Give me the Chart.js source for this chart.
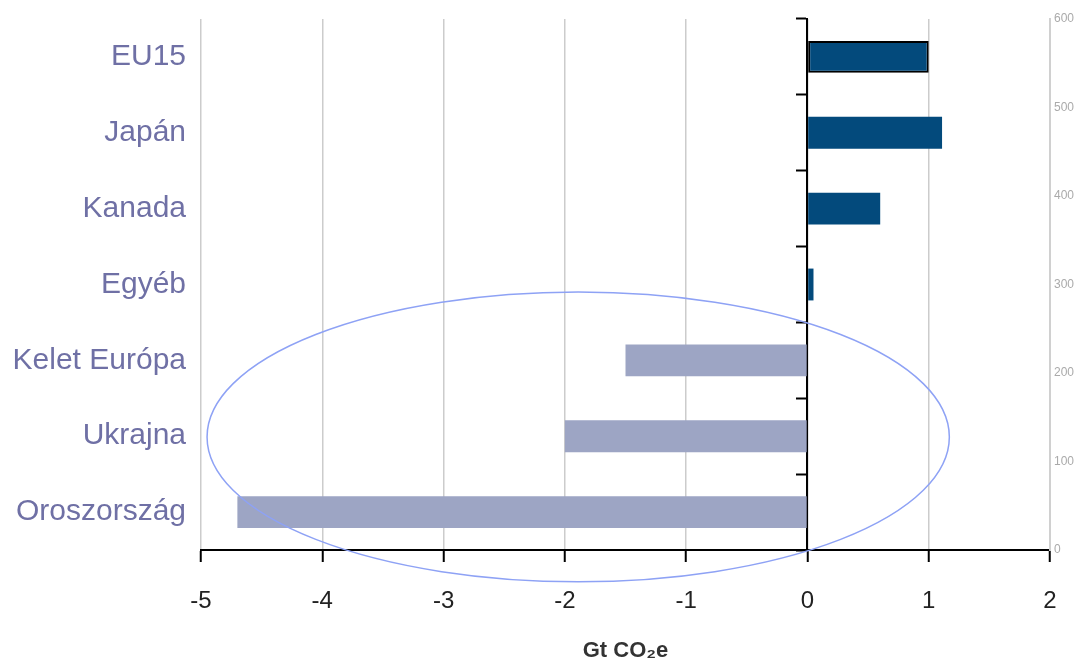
<!DOCTYPE html>
<html>
<head>
<meta charset="utf-8">
<script src="https://cdn.jsdelivr.net/npm/chart.js@4"></script>
<style>
  body { margin: 0; background: #fff; }
  canvas { display: block; }
</style>
</head>
<body>
<canvas id="chart" width="1082" height="666"></canvas>
<script>
// data
const regions = ['EU15', 'Japán', 'Kanada', 'Egyéb', 'Kelet Európa', 'Ukrajna', 'Oroszország'];
const gtValues = [1.0, 1.11, 0.6, 0.05, -1.5, -2.0, -4.7];
const xTicks = [-5, -4, -3, -2, -1, 0, 1, 2];
const rightTicks = [0, 100, 200, 300, 400, 500, 600];

// ellipse around the sellers, in data units (x value, category index)
const ellipseBox = { xMin: -4.95, xMax: 1.17, yTop: 3.1, yBottom: 6.92 };

const posColor = '#034a7c';
const negColor = '#9da5c4';

const ellipsePlugin = {
    id: 'ellipse',
    afterDatasetsDraw(chart) {
        const { ctx, scales } = chart;
        const x1 = scales.x.getPixelForValue(ellipseBox.xMin);
        const x2 = scales.x.getPixelForValue(ellipseBox.xMax);
        const y1 = scales.y.getPixelForValue(ellipseBox.yTop);
        const y2 = scales.y.getPixelForValue(ellipseBox.yBottom);
        ctx.save();
        ctx.beginPath();
        ctx.ellipse((x1 + x2) / 2, (y1 + y2) / 2, (x2 - x1) / 2, (y2 - y1) / 2, 0, 0, Math.PI * 2);
        ctx.strokeStyle = '#8ea2f5';
        ctx.lineWidth = 1.5;
        ctx.stroke();
        ctx.restore();
    }
};

// keep y axes from reserving room above/below the plot for their labels
const noVertPadding = axis => {
    axis.paddingTop = 0;
    axis.paddingBottom = 0;
};

new Chart(document.getElementById('chart'), {
    type: 'bar',
    data: {
        labels: regions,
        datasets: [{
            data: gtValues,
            backgroundColor: gtValues.map(v => v >= 0 ? posColor : negColor),
            borderColor: gtValues.map((v, i) => i === 0 ? '#000' : 'rgba(0,0,0,0)'),
            borderWidth: gtValues.map((v, i) => i === 0 ? 2 : 0),
            borderSkipped: false,
            barPercentage: 0.42,
            categoryPercentage: 1,
            yAxisID: 'y'
        }]
    },
    options: {
        indexAxis: 'y',
        responsive: false,
        animation: false,
        layout: { padding: { top: 19, left: 0, right: 0, bottom: 0 } },
        plugins: {
            legend: { display: false },
            tooltip: { enabled: false }
        },
        scales: {
            x: {
                type: 'linear',
                min: -5,
                max: 2,
                afterBuildTicks: axis => { axis.ticks = xTicks.map(v => ({ value: v })); },
                afterFit: axis => { axis.height = 116; },
                ticks: {
                    font: { family: 'Liberation Sans, Arial', size: 24 },
                    color: '#222',
                    padding: 25
                },
                grid: {
                    color: '#cccccc',
                    lineWidth: 1.5,
                    tickColor: '#000',
                    tickLength: 12,
                    tickWidth: 2
                },
                border: { color: '#000', width: 2 },
                title: {
                    display: true,
                    text: 'Gt CO₂e',
                    font: { family: 'Liberation Sans, Arial', size: 22, weight: 'bold' },
                    color: '#333',
                    padding: { top: 0, bottom: 2 }
                }
            },
            y: {
                type: 'category',
                position: 'left',
                offset: true,
                afterFit: axis => { axis.width = 201; noVertPadding(axis); },
                grid: { display: false, drawTicks: false },
                border: { display: false },
                ticks: {
                    font: { family: 'Liberation Sans, Arial', size: 30 },
                    color: '#6f70a5',
                    padding: 15
                }
            },
            y0: {
                type: 'category',
                position: { x: 0 },
                offset: true,
                afterFit: noVertPadding,
                grid: {
                    offset: true,
                    drawOnChartArea: false,
                    tickColor: '#000',
                    tickLength: 10,
                    tickWidth: 2
                },
                border: { color: '#000', width: 2 },
                ticks: { display: false }
            },
            yR: {
                type: 'linear',
                position: 'right',
                min: 0,
                max: 600,
                offset: false,
                afterBuildTicks: axis => { axis.ticks = rightTicks.map(v => ({ value: v })); },
                afterFit: axis => { axis.width = 32; noVertPadding(axis); },
                grid: { offset: false, drawOnChartArea: false, drawTicks: false },
                border: { color: '#d0d0d0', width: 2 },
                ticks: {
                    font: { family: 'Liberation Sans, Arial', size: 12 },
                    color: '#aaaaaa',
                    padding: 4
                }
            }
        }
    },
    plugins: [ellipsePlugin]
});
</script>
</body>
</html>
